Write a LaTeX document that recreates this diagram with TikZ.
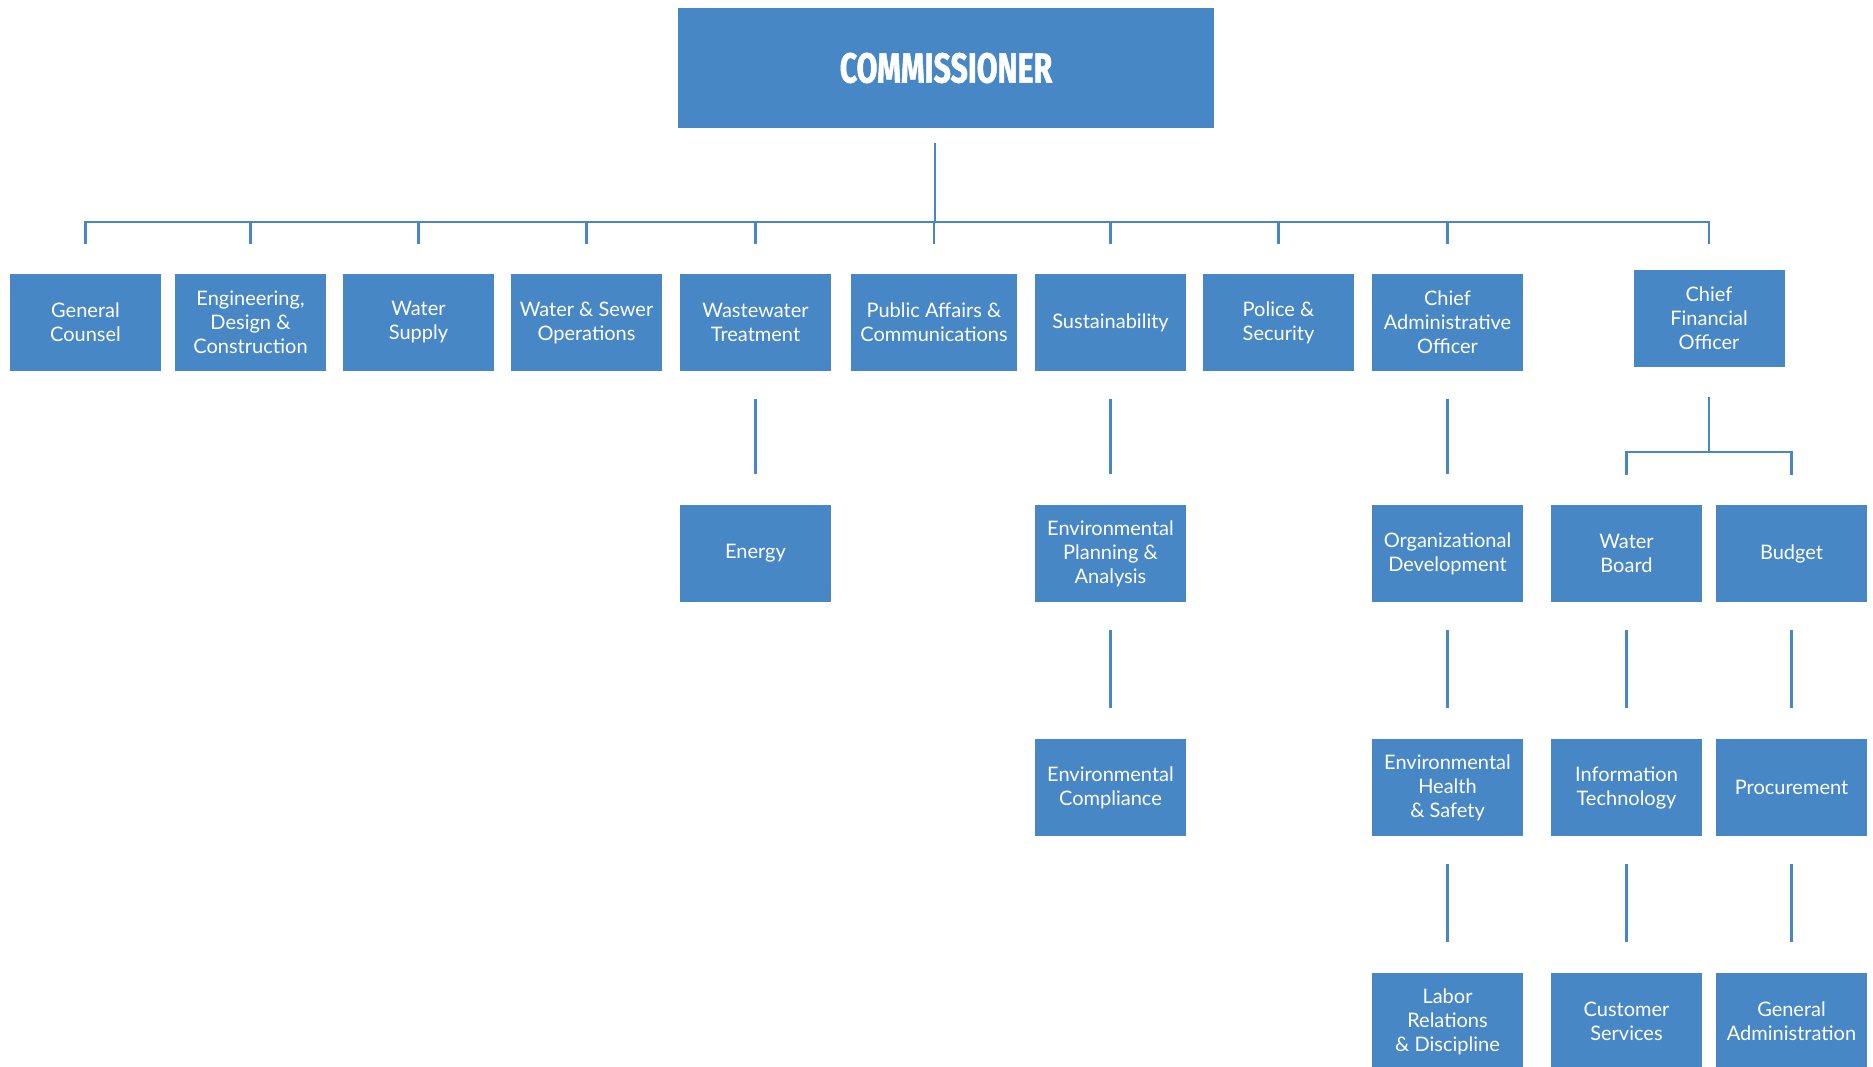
\documentclass[tikz,border=0pt]{standalone}
\usepackage{fontspec}
\setmainfont{Lato}
\newfontfamily\headfont[FakeStretch=0.72,BoldFeatures={FakeBold=1.2}]{Fira Sans}
\definecolor{boxblue}{RGB}{71,135,198}
\definecolor{lineblue}{RGB}{72,134,198}
\tikzset{
  unit/.style={rectangle, fill=boxblue, text=white, align=center, inner sep=0pt,
    minimum width=151pt, minimum height=97pt,
    font=\fontsize{20pt}{24pt}\selectfont},
  wideunit/.style={unit, minimum width=166pt},
  headbox/.style={rectangle, fill=boxblue, text=white, inner sep=0pt,
    minimum width=536pt, minimum height=120pt,
    font=\headfont\bfseries\fontsize{42pt}{44pt}\selectfont},
  conn/.style={draw=lineblue, line width=2.4pt},
  vconn/.style={conn, shorten <=28pt, shorten >=31pt},
}
\begin{document}
\begin{tikzpicture}[x=1pt,y=-1pt]
\useasboundingbox (0,0) rectangle (1873,1067);

% Commissioner
\node[headbox] (comm) at (946,68) {COMMISSIONER};

% Level 1
\node[unit] (gc)  at (85.5,322.5)  {General\\Counsel};
\node[unit] (eng) at (250.5,322.5) {Engineering,\\Design \&\\Construction};
\node[unit] (ws)  at (418.5,322.5) {Water\\Supply};
\node[unit] (wso) at (586.5,322.5) {Water \& Sewer\\Operations};
\node[unit] (wwt) at (755.5,322.5) {Wastewater\\Treatment};
\node[wideunit] (pa) at (934,322.5) {Public Affairs \&\\Communications};
\node[unit] (sus) at (1110.5,322.5) {Sustainability};
\node[unit] (pol) at (1278.5,322.5) {Police \&\\Security};
\node[unit] (cao) at (1447.5,322.5) {Chief\\Administrative\\Officer};
\node[unit] (cfo) at (1709,318.5)   {Chief\\Financial\\Officer};

% Level 2
\node[unit] (energy) at (755.5,553.5)  {Energy};
\node[unit] (epa)    at (1110.5,553.5) {Environmental\\Planning \&\\Analysis};
\node[unit] (od)     at (1447.5,553.5) {Organizational\\Development};
\node[unit] (wb)     at (1626.5,553.5) {Water\\Board};
\node[unit] (budget) at (1791.5,553.5) {Budget};

% Level 3
\node[unit] (ec)   at (1110.5,787.5) {Environmental\\Compliance};
\node[unit] (ehs)  at (1447.5,787.5) {Environmental\\Health\\\& Safety};
\node[unit] (it)   at (1626.5,787.5) {Information\\Technology};
\node[unit] (proc) at (1791.5,787.5) {Procurement};

% Level 4
\node[unit] (lrd) at (1447.5,1021.5) {Labor\\Relations\\\& Discipline};
\node[unit] (cs)  at (1626.5,1021.5) {Customer\\Services};
\node[unit] (ga)  at (1791.5,1021.5) {General\\Administration};

% Commissioner bus
\coordinate (bus) at (0,222);
\coordinate (busend) at (0,244);
\draw[conn] ([xshift=-11pt,yshift=-15pt]comm.south) -- ([xshift=-11pt]comm.south |- bus);
\draw[conn, line cap=rect] (gc.north |- bus) -- (cfo.north |- bus);
\foreach \n in {gc,eng,ws,wso,wwt,pa,sus,pol,cao,cfo}
  \draw[conn] (\n.north |- bus) -- (\n.north |- busend);

% CFO bracket
\coordinate (cbr) at (0,452);
\coordinate (cbrend) at (0,475);
\draw[conn] ([yshift=-30pt]cfo.south) -- (cfo.south |- cbr);
\draw[conn, line cap=rect] (wb.north |- cbr) -- (budget.north |- cbr);
\draw[conn] (wb.north |- cbr) -- (wb.north |- cbrend);
\draw[conn] (budget.north |- cbr) -- (budget.north |- cbrend);

% Vertical chains
\draw[vconn] (wwt.south) -- (energy.north);
\draw[vconn] (sus.south) -- (epa.north);
\draw[vconn] (epa.south) -- (ec.north);
\draw[vconn] (cao.south) -- (od.north);
\draw[vconn] (od.south) -- (ehs.north);
\draw[vconn] (ehs.south) -- (lrd.north);
\draw[vconn] (wb.south) -- (it.north);
\draw[vconn] (it.south) -- (cs.north);
\draw[vconn] (budget.south) -- (proc.north);
\draw[vconn] (proc.south) -- (ga.north);
\end{tikzpicture}
\end{document}
